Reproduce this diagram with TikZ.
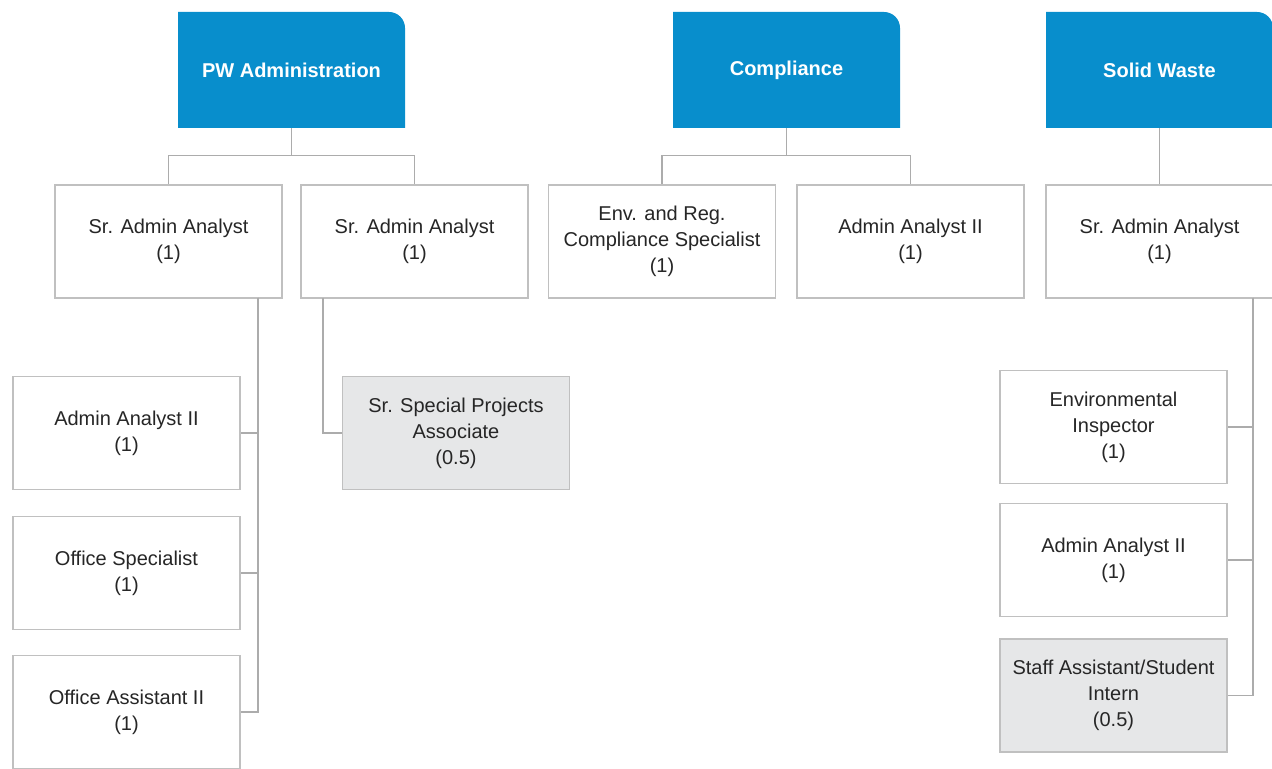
\documentclass[tikz,border=0pt]{standalone}
\usepackage{fontspec}
\setmainfont{Liberation Sans}

\definecolor{headblue}{RGB}{8,142,204}
\definecolor{boxgray}{RGB}{192,192,192}
\definecolor{linegray}{RGB}{172,172,172}
\definecolor{partgray}{RGB}{230,231,232}
\definecolor{textgray}{RGB}{38,38,38}

\begin{document}
\begin{tikzpicture}[x=0.5pt,y=-0.5pt,font=\fontsize{10}{13}\selectfont,
    head/.style={minimum width=113.5pt,minimum height=58pt,text=white,
        font=\fontsize{10}{13}\selectfont\bfseries,
        path picture={\fill[headblue] (path picture bounding box.south west)
            -- (path picture bounding box.north west)
            -- ([xshift=-8pt]path picture bounding box.north east)
            arc[start angle=90,end angle=0,radius=8pt]
            -- (path picture bounding box.south east) -- cycle;}},
    post/.style={draw=boxgray,line width=0.8pt,fill=white,minimum width=113.5pt,
        minimum height=56.5pt,align=center,text=textgray},
    part/.style={post,fill=partgray},
    link/.style={draw=linegray,line width=0.8pt}]
    \useasboundingbox (0,0) rectangle (1272,769);

    \node[head] (pwa) at (291.5,70) {PW Administration};
    \node[head] (cmp) at (786.5,70) {Compliance};
    \node[head] (sws) at (1159.5,70) {Solid Waste};

    \node[post] (saa) at (168.5,241.5) {Sr. Admin Analyst\\(1)};
    \node[post] (sab) at (414.5,241.5) {Sr. Admin Analyst\\(1)};
    \node[post] (ers) at (662,241.5) {Env. and Reg.\\Compliance Specialist\\(1)};
    \node[post] (aac) at (910.5,241.5) {Admin Analyst II\\(1)};
    \node[post] (sac) at (1159.5,241.5) {Sr. Admin Analyst\\(1)};

    \node[post] (aaa) at (126.5,433) {Admin Analyst II\\(1)};
    \node[post] (ofs) at (126.5,573) {Office Specialist\\(1)};
    \node[post] (ofa) at (126.5,712) {Office Assistant II\\(1)};
    \node[part] (spa) at (456,433) {Sr. Special Projects\\Associate\\(0.5)};

    \node[post] (evi) at (1113.5,427) {Environmental\\Inspector\\(1)};
    \node[post] (aas) at (1113.5,560) {Admin Analyst II\\(1)};
    \node[part] (sai) at (1113.5,695.5) {Staff Assistant/Student\\Intern\\(0.5)};

    \coordinate (ta) at (258,298);
    \coordinate (tb) at (323,298);
    \coordinate (tc) at (1253,298);

    \draw[link] (pwa.south) -- ++(0,27) -| (saa.north);
    \draw[link] (pwa.south) -- ++(0,27) -| (sab.north);
    \draw[link] (cmp.south) -- ++(0,27) -| (ers.north);
    \draw[link] (cmp.south) -- ++(0,27) -| (aac.north);
    \draw[link] (sws) -- (sac);

    \draw[link] (ta) |- (aaa.east);
    \draw[link] (ta) |- (ofs.east);
    \draw[link] (ta) |- (ofa.east);
    \draw[link] (tb) |- (spa.west);
    \draw[link] (tc) |- (evi.east);
    \draw[link] (tc) |- (aas.east);
    \draw[link] (tc) |- (sai.east);
\end{tikzpicture}
\end{document}
